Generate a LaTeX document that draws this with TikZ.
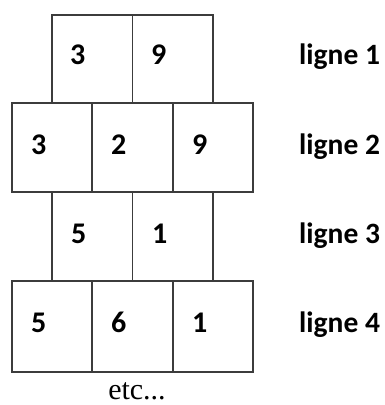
\documentclass[tikz,border=0pt]{standalone}
\usepackage{fontspec}
\newfontfamily\labelfont{Carlito}
\newfontfamily\notefont{Liberation Serif}
\definecolor{edge}{HTML}{3C3C3C}
\begin{document}
\begin{tikzpicture}[x=1pt,y=-1pt,
  cell/.style={draw=edge, line width=1.6pt, inner sep=0pt, outer sep=0pt,
    minimum width=80.5pt},
  num/.style={anchor=base west, inner sep=0pt,
    font=\labelfont\bfseries\fontsize{30}{32}\selectfont},
  rowlabel/.style={anchor=base west, inner sep=0pt,
    font=\labelfont\bfseries\fontsize{29.5}{32}\selectfont},
  note/.style={anchor=base, inner sep=0pt,
    font=\notefont\fontsize{30}{32}\selectfont}]
\useasboundingbox (0,0) rectangle (384,405);
% row 1
\node[cell, minimum height=88pt] (c11) at (92.25,59) {};
\node[cell, minimum height=88pt] (c12) at (172.75,59) {};
% row 2
\node[cell, minimum height=89pt] (c21) at (52,147.5) {};
\node[cell, minimum height=89pt] (c22) at (132.5,147.5) {};
\node[cell, minimum height=89pt] (c23) at (213,147.5) {};
% row 3
\node[cell, minimum height=89pt] (c31) at (92.25,236.5) {};
\node[cell, minimum height=89pt] (c32) at (172.75,236.5) {};
% row 4
\node[cell, minimum height=91pt] (c41) at (52,326.5) {};
\node[cell, minimum height=91pt] (c42) at (132.5,326.5) {};
\node[cell, minimum height=91pt] (c43) at (213,326.5) {};
% numbers
\node[num] (n11) at (70,64) {3};
\node[num] (n12) at (151,64) {9};
\node[num] (n21) at (31,154) {3};
\node[num] (n22) at (111,154) {2};
\node[num] (n23) at (192,154) {9};
\node[num] (n31) at (71,243) {5};
\node[num] (n32) at (152,243) {1};
\node[num] (n41) at (31,332) {5};
\node[num] (n42) at (111,332) {6};
\node[num] (n43) at (192,332) {1};
% row labels
\node[rowlabel] (l1) at (299,64) {ligne 1};
\node[rowlabel] (l2) at (299,154) {ligne 2};
\node[rowlabel] (l3) at (299,243) {ligne 3};
\node[rowlabel] (l4) at (299,332) {ligne 4};
% continuation note
\node[note] (etc) at (137,399) {etc...};
\end{tikzpicture}
\end{document}
